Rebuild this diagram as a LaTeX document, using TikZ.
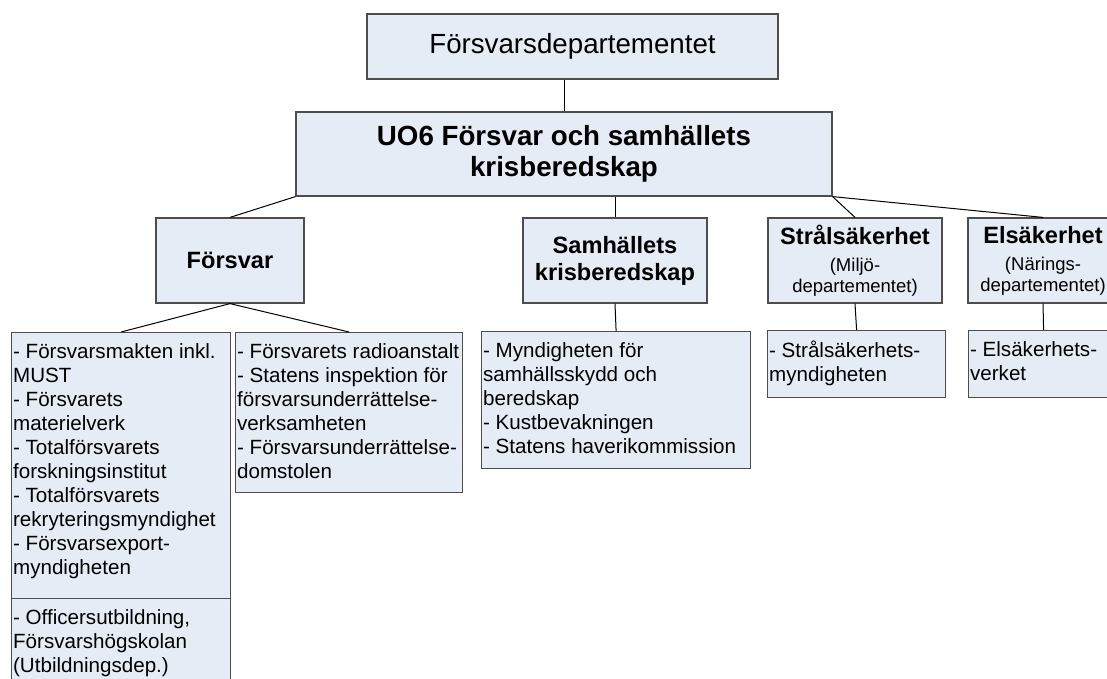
\documentclass[tikz,border=0pt]{standalone}
\usepackage{fontspec}
\setmainfont{Liberation Sans}

\definecolor{boxfill}{RGB}{230,236,246}
\definecolor{boxline}{RGB}{77,77,77}

\tikzset{
  orgbox/.style={draw=boxline, fill=boxfill, line width=1.2pt, inner sep=0pt, align=center},
  unitbox/.style={orgbox, minimum height=85pt, font=\bfseries\fontsize{23.6}{27}\selectfont},
  listbox/.style={draw=boxline, fill=boxfill, line width=1.2pt, anchor=north west,
    inner xsep=1.5pt, inner ysep=10.5pt, font=\fontsize{20.6}{24}\selectfont},
  link/.style={line width=1pt}
}
\newcommand{\listtext}[3]{\parbox[c][#1][t]{#2}{\raggedright #3}}

\begin{document}
\begin{tikzpicture}[x=1pt,y=-1pt]
  \useasboundingbox (0,0) rectangle (1107,678);
  \clip (0,0) rectangle (1107,678);

  \node[orgbox, minimum width=411pt, minimum height=65pt, font=\fontsize{27.7}{32}\selectfont]
    (dept) at (572.5,46.5) {Försvarsdepartementet}; %Top box
  \node[orgbox, minimum width=536pt, minimum height=84pt, font=\bfseries\fontsize{27.7}{31}\selectfont]
    (uo6) at (564,154) {UO6 Försvar och samhällets\\krisberedskap}; %Expenditure area

  \node[unitbox, minimum width=148pt] (forsvar) at (230,260.5) {Försvar};
  \node[unitbox, minimum width=184pt] (samhalle) at (615,260.5) {Samhällets\\krisberedskap};
  \node[unitbox, minimum width=174pt, font=\fontsize{18.5}{20.5}\selectfont] (stral) at (855,260.5)
    {{\bfseries\fontsize{23.6}{27}\selectfont Strålsäkerhet}\\[7pt](Miljö-\\departementet)};
  \node[unitbox, minimum width=150pt, font=\fontsize{18.5}{20.5}\selectfont] (elsak) at (1043,260.5)
    {{\bfseries\fontsize{23.6}{27}\selectfont Elsäkerhet}\\[7pt](Närings-\\departementet)};

  \node[listbox] (must) at (11,332) {\listtext{245pt}{216pt}{- Försvarsmakten inkl.\\MUST\\- Försvarets\\materielverk\\- Totalförsvarets\\forskningsinstitut\\- Totalförsvarets\\rekryteringsmyndighet\\- Försvarsexport-\\myndigheten}};
  \node[listbox] (officer) at (11,598) {\listtext{90pt}{216pt}{- Officersutbildning,\\Försvarshögskolan\\(Utbildningsdep.)}};
  \node[listbox] (fra) at (235,332) {\listtext{139pt}{224pt}{- Försvarets radioanstalt\\- Statens inspektion för\\försvarsunderrättelse-\\verksamheten\\- Försvarsunderrättelse-\\domstolen}};
  \node[listbox] (msb) at (481,331) {\listtext{116pt}{266pt}{- Myndigheten för\\samhällsskydd och\\beredskap\\- Kustbevakningen\\- Statens haverikommission}};
  \node[listbox] (ssm) at (767,330) {\listtext{46pt}{175pt}{- Strålsäkerhets-\\myndigheten}};
  \node[listbox] (elsverk) at (968,330) {\listtext{46pt}{147pt}{- Elsäkerhets-\\verket}};

  \draw[link] (uo6.north) -- (uo6.north |- dept.south); %Top to area
  \draw[link] (uo6.south west) -- (forsvar.north);
  \draw[link] (samhalle.north |- uo6.south) -- (samhalle.north);
  \draw[link] (uo6.south east) -- (stral.north);
  \draw[link] (uo6.south east) -- (elsak.north);
  \draw[link] (forsvar.south) -- (must.north); %Agencies under Försvar
  \draw[link] (forsvar.south) -- (fra.north);
  \draw[link] (samhalle.south) -- (msb.north);
  \draw[link] (stral.south) -- (ssm.north);
  \draw[link] (elsak.south) -- (elsverk.north);
\end{tikzpicture}
\end{document}
